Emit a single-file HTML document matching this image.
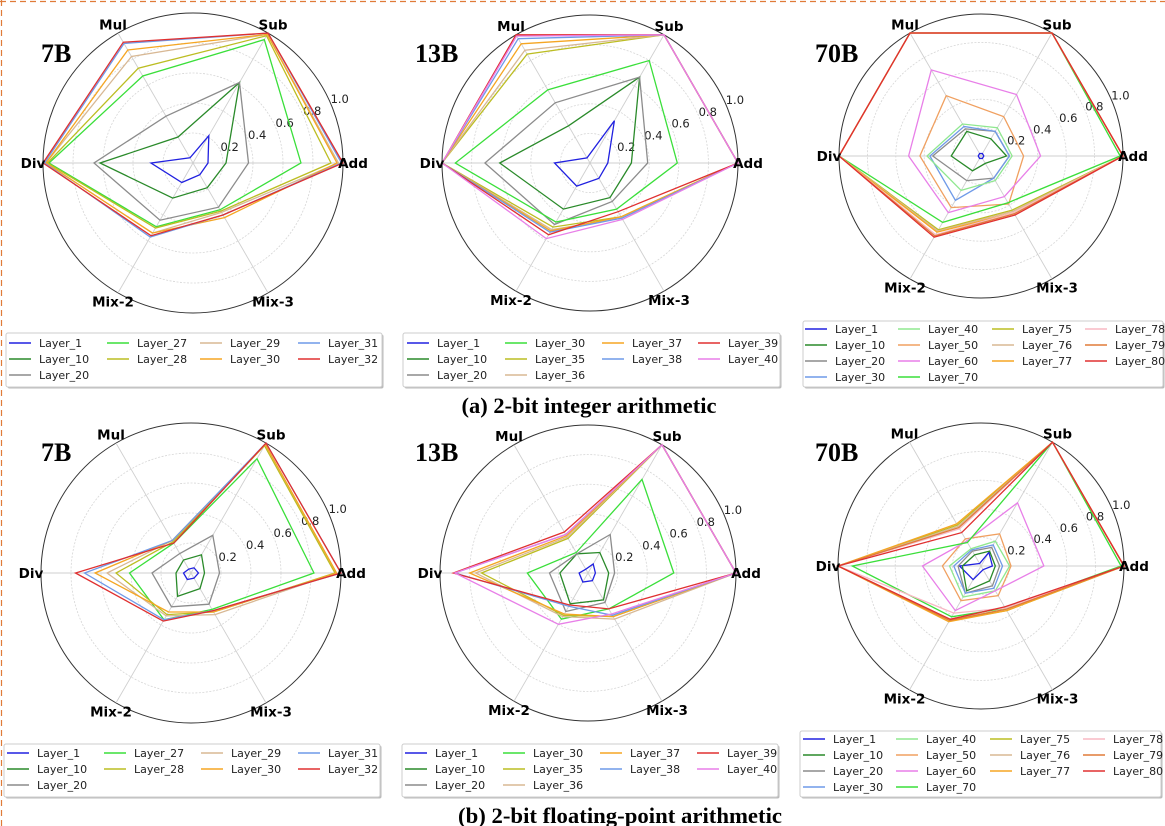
<!DOCTYPE html>
<html><head><meta charset="utf-8"><style>
html,body{margin:0;padding:0;background:#fff;}
svg{display:block;font-family:"DejaVu Sans","Liberation Sans",sans-serif;}
</style></head><body>
<svg id="fig" width="1165" height="826" viewBox="0 0 1165 826" xmlns="http://www.w3.org/2000/svg">
<line x1="1.5" y1="0" x2="1.5" y2="826" stroke="#e07b39" stroke-width="1.2" stroke-dasharray="6,4"/>
<line x1="0" y1="1.5" x2="1165" y2="1.5" stroke="#e07b39" stroke-width="1.2" stroke-dasharray="6,4"/>
<text x="589" y="413" text-anchor="middle" font-family="Liberation Serif, serif" font-weight="bold" font-size="22" textLength="255" lengthAdjust="spacingAndGlyphs">(a) 2-bit integer arithmetic</text>
<text x="620" y="823" text-anchor="middle" font-family="Liberation Serif, serif" font-weight="bold" font-size="22" textLength="324" lengthAdjust="spacingAndGlyphs">(b) 2-bit floating-point arithmetic</text>
</svg>
<script>
// axis categories (Add at 0°, counter-clockwise)
const categories = ["Add","Sub","Mul","Div","Mix-2","Mix-3"];
const tickValues = [0.2,0.4,0.6,0.8,1.0];
const tickLabels = ["0.2","0.4","0.6","0.8","1.0"];

// ---- (a) 7B ----
const a7Layers = ["Layer_1","Layer_10","Layer_20","Layer_27","Layer_28","Layer_29","Layer_30","Layer_31","Layer_32"];
const a7Values = [
 [0.10,0.21,0.04,0.28,0.15,0.09],
 [0.22,0.62,0.20,0.62,0.27,0.19],
 [0.37,0.62,0.36,0.66,0.44,0.34],
 [0.72,0.95,0.67,0.96,0.49,0.36],
 [0.92,0.98,0.73,0.97,0.50,0.37],
 [0.97,0.99,0.82,0.98,0.54,0.38],
 [0.96,0.99,0.87,0.98,0.54,0.42],
 [0.99,1.00,0.92,0.99,0.57,0.40],
 [1.00,1.00,0.93,1.00,0.56,0.40]];
// ---- (a) 13B ----
const a13Layers = ["Layer_1","Layer_10","Layer_20","Layer_30","Layer_35","Layer_36","Layer_37","Layer_38","Layer_39","Layer_40"];
const a13Values = [
 [0.12,0.33,0.04,0.24,0.18,0.12],
 [0.28,0.67,0.29,0.61,0.36,0.27],
 [0.39,0.67,0.47,0.71,0.48,0.30],
 [0.59,0.80,0.57,0.91,0.46,0.36],
 [1.00,1.00,0.85,1.00,0.50,0.42],
 [1.00,1.00,0.88,1.00,0.52,0.43],
 [1.00,1.00,0.93,1.00,0.53,0.42],
 [1.00,1.00,0.97,1.00,0.54,0.43],
 [1.00,1.00,1.00,1.00,0.56,0.38],
 [1.00,1.00,0.99,1.00,0.59,0.44]];
// ---- (a) 70B ----
const a70Layers = ["Layer_1","Layer_10","Layer_20","Layer_30","Layer_40","Layer_50","Layer_60","Layer_70","Layer_75","Layer_76","Layer_77","Layer_78","Layer_79","Layer_80"];
const a70Values = [
 [0.02,0.02,0.02,0.02,0.02,0.02],
 [0.18,0.14,0.20,0.21,0.12,0.06],
 [0.20,0.20,0.22,0.34,0.20,0.18],
 [0.20,0.20,0.24,0.36,0.36,0.18],
 [0.22,0.23,0.26,0.38,0.28,0.20],
 [0.30,0.32,0.49,0.43,0.42,0.39],
 [0.42,0.50,0.70,0.51,0.46,0.33],
 [0.98,1.00,1.00,1.00,0.54,0.38],
 [1.00,1.00,1.00,1.00,0.60,0.44],
 [1.00,1.00,1.00,1.00,0.61,0.45],
 [1.00,1.00,1.00,1.00,0.62,0.46],
 [1.00,1.00,1.00,1.00,0.64,0.46],
 [1.00,1.00,1.00,1.00,0.65,0.47],
 [1.00,1.00,1.00,1.00,0.66,0.48]];
// ---- (b) 7B ----
const b7Layers = a7Layers;
const b7Values = [
 [0.05,0.04,0.03,0.05,0.05,0.04],
 [0.09,0.14,0.10,0.10,0.18,0.12],
 [0.19,0.29,0.15,0.26,0.26,0.24],
 [0.82,0.88,0.23,0.41,0.36,0.28],
 [0.96,0.98,0.24,0.50,0.32,0.30],
 [0.97,0.99,0.25,0.56,0.33,0.32],
 [0.97,0.99,0.25,0.64,0.30,0.30],
 [1.00,1.00,0.25,0.71,0.36,0.29],
 [1.00,1.00,0.23,0.77,0.37,0.29]];
// ---- (b) 13B ----
const b13Layers = a13Layers;
const b13Values = [
 [0.05,0.07,0.03,0.06,0.07,0.06],
 [0.14,0.16,0.15,0.19,0.24,0.21],
 [0.18,0.30,0.15,0.26,0.30,0.23],
 [0.58,0.73,0.16,0.41,0.36,0.28],
 [1.00,1.00,0.27,0.72,0.33,0.34],
 [1.00,1.00,0.28,0.76,0.34,0.36],
 [1.00,1.00,0.29,0.80,0.32,0.34],
 [1.00,1.00,0.30,0.90,0.26,0.33],
 [1.00,1.00,0.32,0.91,0.25,0.28],
 [1.00,1.00,0.30,0.90,0.40,0.32]];
// ---- (b) 70B ----
const b70Layers = a70Layers;
const b70Values = [
 [0.08,0.11,0.02,0.15,0.11,0.03],
 [0.10,0.12,0.09,0.13,0.20,0.12],
 [0.13,0.15,0.12,0.16,0.22,0.16],
 [0.15,0.17,0.13,0.19,0.22,0.18],
 [0.20,0.20,0.14,0.22,0.25,0.20],
 [0.21,0.26,0.22,0.27,0.28,0.24],
 [0.44,0.51,0.20,0.41,0.36,0.20],
 [0.98,1.00,0.19,0.90,0.41,0.34],
 [1.00,1.00,0.33,1.00,0.44,0.36],
 [1.00,1.00,0.32,1.00,0.43,0.35],
 [1.00,1.00,0.34,1.00,0.45,0.36],
 [1.00,1.00,0.30,1.00,0.38,0.34],
 [1.00,1.00,0.31,1.00,0.44,0.35],
 [1.00,1.00,0.27,1.00,0.43,0.33]];

const col7 = ["#2020e0","#2a8a2a","#8c8c8c","#3adf3a","#bcbd22","#d8b894","#f5a623","#6f9ae8","#e03030"];
const col13 = ["#2020e0","#2a8a2a","#8c8c8c","#3adf3a","#bcbd22","#d8b894","#f5a623","#6f9ae8","#e03030","#e87fe8"];
const col70 = ["#2020e0","#2a8a2a","#8c8c8c","#6f9ae8","#8fe88f","#f0a060","#e87fe8","#3adf3a","#bcbd22","#d8b894","#f5a623","#f8b8c4","#e07b39","#e03030"];

const NS="http://www.w3.org/2000/svg";
const svg=document.getElementById('fig');
function mk(tag,attrs,parent){const e=document.createElementNS(NS,tag);for(const k in attrs)e.setAttribute(k,attrs[k]);(parent||svg).appendChild(e);return e;}

function panel(p){
  const g=mk('g',{});
  
  
  const ang=i=>i*Math.PI/3;
  const px=(i,v)=>p.cx+p.r*v*Math.cos(ang(i));
  const py=(i,v)=>p.cy-p.r*v*Math.sin(ang(i));
  tickValues.forEach((t,k)=>{
    const c=mk('circle',{cx:p.cx,cy:p.cy,r:p.r*t,fill:'none',stroke:t===1?'#333':'#d6d6d6','stroke-width':t===1?1:0.8,'stroke-dasharray':t===1?'none':'2,1.5'},g);
    
    
  });
  categories.forEach((c,i)=>{
    const l=mk('line',{x1:p.cx,y1:p.cy,x2:px(i,1),y2:py(i,1),stroke:'#cfcfcf','stroke-width':0.9},g);
    
    
  });
  const ta=23.5*Math.PI/180;
  tickValues.forEach((t,k)=>{
    const d=p.r*t+10;
    const tx=mk('text',{x:p.cx+d*Math.cos(ta),y:p.cy-d*Math.sin(ta)+4,'text-anchor':'middle','font-size':11.5,fill:'#222'},g);
    tx.textContent=tickLabels[k];
    
    
  });
  p.values.forEach((vals,s)=>{
    const pts=vals.map((v,i)=>px(i,v).toFixed(1)+','+py(i,v).toFixed(1)).join(' ');
    const pl=mk('polygon',{points:pts,fill:'none',stroke:p.colors[s],'stroke-width':1.3,'stroke-linejoin':'miter'},g);
    
    
  });
  categories.forEach((c,i)=>{
    const d=p.r+10;
    const t=mk('text',{x:p.cx+d*Math.cos(ang(i)),y:p.cy-d*Math.sin(ang(i))+5,'text-anchor':'middle','font-size':13.5,'font-weight':'bold',fill:'#000'},g);
    t.textContent=c;
    
    
  });
  const tt=mk('text',{x:p.tx,y:p.ty,'font-family':'Liberation Serif, serif','font-weight':'bold','font-size':26,fill:'#000'},g);
  tt.textContent=p.title;
  
  
  const L=p.legend;
  const lg=mk('g',{},g);
  
  
  mk('rect',{x:L.x+1.5,y:L.y+1.5,width:L.w,height:L.h,fill:'#bbb',rx:2},lg);
  mk('rect',{x:L.x,y:L.y,width:L.w,height:L.h,fill:'#fff',stroke:'#ccc','stroke-width':1,rx:2},lg);
  const n=p.layers.length, nc=4, rows=Math.ceil(n/nc), extra=n%nc||nc;
  let idx=0;
  for(let c=0;c<nc;c++){
    const cnt=c<extra?rows:rows-1;
    for(let r=0;r<cnt;r++){
      const y=L.y0+r*16;
      const e=mk('g',{},lg);
      
      
      mk('line',{x1:L.cols[c],y1:y,x2:L.cols[c]+22,y2:y,stroke:p.colors[idx],'stroke-width':1.5},e);
      const t=mk('text',{x:L.cols[c]+30,y:y+4,'font-size':11,fill:'#222'},e);
      t.textContent=p.layers[idx];
      idx++;
    }
  }
}

panel({name:'panel-a-7b',cx:193,cy:163,r:150,title:'7B',tx:41,ty:62,layers:a7Layers,values:a7Values,colors:col7,
  legend:{x:6,y:333,w:376,h:54,y0:343,cols:[9,107,200,298]}});
panel({name:'panel-a-13b',cx:590,cy:163,r:148,title:'13B',tx:415,ty:62,layers:a13Layers,values:a13Values,colors:col13,
  legend:{x:403,y:333,w:377,h:54,y0:343,cols:[407,505,602,698]}});
panel({name:'panel-a-70b',cx:981,cy:156,r:142,title:'70B',tx:815,ty:62,layers:a70Layers,values:a70Values,colors:col70,
  legend:{x:803,y:321,w:360,h:66,y0:329,cols:[805,898,992,1085]}});
panel({name:'panel-b-7b',cx:191,cy:573,r:150,title:'7B',tx:41,ty:461,layers:b7Layers,values:b7Values,colors:col7,
  legend:{x:4,y:744,w:376,h:53,y0:753,cols:[7,104,201,298]}});
panel({name:'panel-b-13b',cx:588,cy:573,r:148,title:'13B',tx:415,ty:461,layers:b13Layers,values:b13Values,colors:col13,
  legend:{x:402,y:744,w:376,h:53,y0:753,cols:[405,503,600,697]}});
panel({name:'panel-b-70b',cx:981,cy:566,r:143,title:'70B',tx:815,ty:461,layers:b70Layers,values:b70Values,colors:col70,
  legend:{x:800,y:731,w:361,h:66,y0:739,cols:[803,896,990,1083]}});
</script>
</body></html>
